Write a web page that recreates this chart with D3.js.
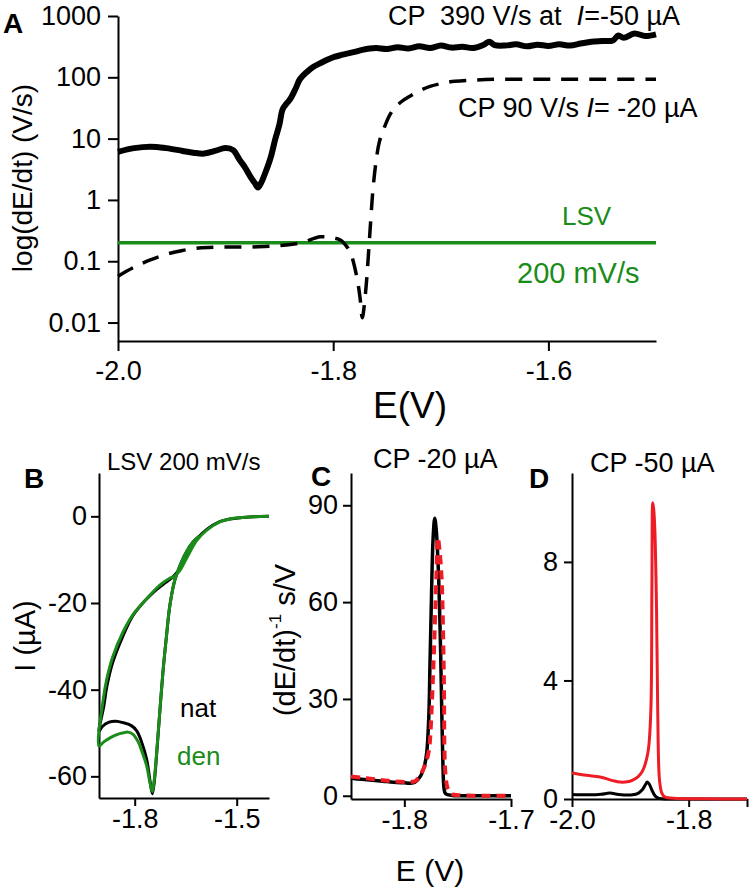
<!DOCTYPE html>
<html>
<head>
<meta charset="utf-8">
<script src="https://cdn.jsdelivr.net/npm/d3@7"></script>
<style>
  body { margin: 0; background: #fff; }
  text { font-family: Arial, "Liberation Sans", sans-serif; white-space: pre; }
  .axis path, .axis line { stroke: #000; stroke-width: 2px; }
  .axis text { font-family: Arial, "Liberation Sans", sans-serif; fill: #000; }
</style>
</head>
<body>
<script>
var width = 751,
    height = 891;

var green = "#1a8c1a",
    red = "#ee1c25";

// ---- panel A data: log(dE/dt) vs E ----
var aE390 = [-2.0,-1.985,-1.97,-1.955,-1.94,-1.93,-1.92,-1.91,-1.9,-1.893,-1.887,-1.882,-1.877,-1.873,-1.87,-1.867,-1.863,-1.858,-1.854,-1.85,-1.847,-1.843,-1.84,-1.835,-1.831,-1.825,-1.818,-1.812,-1.805,-1.799,-1.793,-1.786,-1.78,-1.773,-1.766,-1.76,-1.75,-1.74,-1.73,-1.72,-1.71,-1.70,-1.69,-1.68,-1.67,-1.66,-1.655,-1.65,-1.64,-1.63,-1.62,-1.61,-1.60,-1.59,-1.58,-1.57,-1.56,-1.55,-1.54,-1.535,-1.53,-1.52,-1.51,-1.50];
var aV390 = [6.1,7.0,7.4,7.0,6.3,5.9,5.7,6.3,7.0,6.5,4.5,3.4,2.4,1.9,1.6,1.9,2.8,5.0,9.6,17,30,38,44,65,93,120,150,170,195,215,230,245,260,280,295,300,290,310,295,320,300,330,305,315,300,340,380,335,330,345,320,340,325,345,330,355,380,390,400,480,440,520,470,500];

var aE90 = [-2.0,-1.985,-1.97,-1.955,-1.94,-1.925,-1.91,-1.89,-1.87,-1.85,-1.83,-1.812,-1.80,-1.793,-1.787,-1.784,-1.778,-1.775,-1.773,-1.770,-1.767,-1.765,-1.763,-1.760,-1.757,-1.752,-1.747,-1.742,-1.735,-1.728,-1.72,-1.71,-1.70,-1.687,-1.67,-1.645,-1.60,-1.55,-1.50];
var aV90 = [0.057,0.08,0.105,0.13,0.15,0.165,0.17,0.17,0.172,0.18,0.2,0.25,0.24,0.22,0.17,0.14,0.055,0.025,0.012,0.03,0.15,0.5,1.5,4.5,9,16,25,33,42,50,60,71,79,86,90,93,93,93,93];

var aLsvE = [-2.0,-1.5];
var aLsvV = [0.2,0.2];

var aXTicks = [-2.0,-1.8,-1.6], aXLabels = ["-2.0","-1.8","-1.6"], aXMinor = [-1.9,-1.7,-1.5];
var aYTicks = [0.01,0.1,1,10,100,1000], aYLabels = ["0.01","0.1","1","10","100","1000"];

// ---- panel B data: LSV 200 mV/s, I (uA) vs E ----
var bNatE = [-1.405,-1.45,-1.49,-1.52,-1.55,-1.588,-1.618,-1.647,-1.668,-1.683,-1.697,-1.715,-1.736,-1.755,-1.776,-1.806,-1.835,-1.865,-1.882,-1.891,-1.905,
             -1.895,-1.875,-1.855,-1.835,-1.81,-1.794,-1.78,-1.765,-1.755,-1.748,-1.742,-1.736,-1.727,-1.717,-1.707,-1.697,-1.683,-1.668,-1.65,-1.629,-1.61];
var bNatI = [0,-0.1,-0.3,-0.6,-1.2,-3.0,-5.3,-9.2,-12.2,-13.6,-14.6,-15.6,-16.9,-18.3,-20.0,-23.0,-27.7,-33.8,-39.3,-43.9,-49.6,
             -48.5,-47.5,-47.3,-47.6,-48.3,-49.5,-52,-56,-61,-64,-61,-55.5,-46,-36,-28,-20.8,-15,-11.6,-8.5,-6,-4.6];
var bDenE = [-1.405,-1.45,-1.49,-1.52,-1.55,-1.588,-1.618,-1.647,-1.668,-1.683,-1.697,-1.715,-1.736,-1.755,-1.776,-1.806,-1.835,-1.865,-1.882,-1.891,-1.905,
             -1.89,-1.87,-1.85,-1.835,-1.82,-1.805,-1.79,-1.78,-1.765,-1.755,-1.748,-1.742,-1.736,-1.727,-1.717,-1.707,-1.697,-1.683,-1.668,-1.65,-1.629,-1.61];
var bDenI = [0,-0.1,-0.3,-0.6,-1.3,-3.2,-5.6,-9.6,-12.6,-13.8,-14.3,-15.2,-16.6,-18.2,-20.0,-22.8,-26.8,-32.5,-37.5,-41.5,-53,
             -52,-51,-50.3,-50,-49.8,-50.3,-52,-54,-57.5,-61.5,-63.5,-60.5,-55,-46,-36,-28,-20.8,-15,-11.6,-8.5,-6,-4.6];
var bXTicks = [-1.8,-1.5], bXLabels = ["-1.8","-1.5"], bXMinor = [-1.65];
var bYTicks = [-60,-40,-20,0], bYLabels = ["-60","-40","-20","0"], bYMinor = [-50,-30,-10];

// ---- panel C data: CP -20 uA, (dE/dt)^-1 ----
var cBlkE = [-1.85,-1.84,-1.83,-1.82,-1.81,-1.80,-1.795,-1.79,-1.785,-1.781,-1.779,-1.777,-1.776,-1.775,-1.773,-1.7715,-1.770,-1.768,-1.766,-1.765,-1.764,-1.763,-1.762,-1.76,-1.755,-1.75,-1.73,-1.70];
var cBlkV = [5.4,5.1,4.8,4.5,4.2,4.0,3.9,4.2,6,9.5,13.4,25,40,55,80,86,82,69,45,28,12,3,1,0.4,0.1,0,0,0];
var cRedE = [-1.85,-1.84,-1.83,-1.82,-1.81,-1.80,-1.795,-1.79,-1.785,-1.78,-1.777,-1.776,-1.773,-1.770,-1.7685,-1.767,-1.765,-1.763,-1.7615,-1.759,-1.755,-1.75,-1.73,-1.70];
var cRedV = [6,5.6,5.2,4.8,4.5,4.3,4.3,4.5,6.5,10,14,17,38,67,80,76,67,38,7,2,0.5,0.2,0,0];
var cXTicks = [-1.8,-1.7], cXLabels = ["-1.8","-1.7"], cXMinor = [-1.75];
var cYTicks = [0,30,60,90], cYLabels = ["0","30","60","90"], cYMinor = [15,45,75];

// ---- panel D data: CP -50 uA ----
var dRedE = [-2.0,-1.975,-1.952,-1.93,-1.918,-1.905,-1.896,-1.887,-1.879,-1.870,-1.865,-1.863,-1.8615,-1.860,-1.858,-1.855,-1.853,-1.850,-1.846,-1.841,-1.82,-1.78,-1.74,-1.70];
var dRedV = [0.88,0.8,0.74,0.62,0.57,0.58,0.64,0.75,0.95,1.55,2.9,7.2,10.0,9.8,9.1,6.3,2.9,0.64,0.2,0.07,0.02,0.01,0,0];
var dBlkE = [-2.0,-1.97,-1.95,-1.935,-1.92,-1.896,-1.886,-1.88,-1.875,-1.871,-1.867,-1.863,-1.858,-1.853,-1.845,-1.80,-1.70];
var dBlkV = [0.15,0.14,0.16,0.2,0.15,0.14,0.2,0.3,0.45,0.57,0.48,0.3,0.12,0.04,0.01,0,0];
var dXTicks = [-2.0,-1.8,-1.7], dXLabels = ["-2.0","-1.8",""], dXMinor = [-1.9];
var dYTicks = [0,4,8], dYLabels = ["0","4","8"], dYMinor = [2,6,10];

var svg = d3.select("body").append("svg")
    .attr("width", width)
    .attr("height", height);

function zip(xs, ys){ return xs.map(function(v,i){ return {x: v, y: ys[i]}; }); }

// left/bottom axes with long labelled ticks and short minor ones
function drawAxes(x, y, o){
    var gx = svg.append("g").attr("class","axis").attr("transform","translate(0," + y.range()[0] + ")");
    gx.call(d3.axisBottom(x).tickValues(o.xMinor).tickSize(o.minor).tickSizeOuter(0).tickFormat(""));
    gx.call(d3.axisBottom(x).tickValues(o.xTicks).tickSize(o.major).tickSizeOuter(0)
        .tickPadding(o.xPad).tickFormat(function(d,i){ return o.xLabels[i]; }));
    gx.selectAll("text").style("font-size", o.fs + "px");

    var gy = svg.append("g").attr("class","axis").attr("transform","translate(" + x.range()[0] + ",0)");
    gy.call(d3.axisLeft(y).tickValues(o.yMinor).tickSize(o.minor).tickSizeOuter(0).tickFormat(""));
    gy.call(d3.axisLeft(y).tickValues(o.yTicks).tickSize(o.major).tickSizeOuter(0)
        .tickPadding(o.yPad).tickFormat(function(d,i){ return o.yLabels[i]; }));
    gy.selectAll("text").style("font-size", o.fs + "px");
}

function drawLine(x, y, data, color, w, dash, curve){
    var line = d3.line()
        .x(d => x(d.x))
        .y(d => y(d.y))
        .curve(curve || d3.curveCatmullRom.alpha(0.5));
    svg.append("path")
        .datum(data)
        .attr("d", line)
        .attr("fill", "none")
        .attr("stroke", color)
        .attr("stroke-width", w)
        .attr("stroke-linejoin", "round")
        .attr("stroke-dasharray", dash || null);
}

function label(x, y, txt, size, opts){
    opts = opts || {};
    var t = svg.append("text")
        .attr("x", x).attr("y", y)
        .attr("font-size", size)
        .attr("fill", opts.fill || "#000")
        .attr("font-weight", opts.bold ? "bold" : null)
        .attr("text-anchor", opts.anchor || "start")
        .text(txt);
    if (opts.rotate) t.attr("transform", "rotate(-90," + x + "," + y + ")");
    return t;
}

// ================= A =================
var xA = d3.scaleLinear().domain([-2.0,-1.5]).range([118,656]);
var yA = d3.scaleLog().domain([0.005,1000]).range([341,16]);

var aMinor = [];
for (var n = -3; n <= 2; n++) for (var k = 2; k <= 9; k++) {
    var v = k * Math.pow(10, n);
    if (v >= 0.005 && v <= 1000) aMinor.push(v);
}
drawAxes(xA, yA, {xTicks: aXTicks, xLabels: aXLabels, xMinor: aXMinor, yTicks: aYTicks, yLabels: aYLabels, yMinor: aMinor,
                  major: 10, minor: 5, xPad: 10, yPad: 7, fs: 27});

drawLine(xA, yA, zip(aLsvE, aLsvV), green, 3.5, null, d3.curveLinear);
drawLine(xA, yA, zip(aE90, aV90), "#000", 3.5, "17,11");
drawLine(xA, yA, zip(aE390, aV390), "#000", 6);

label(3, 33, "A", 28, {bold: true});
var t1 = label(388, 25, "CP  390 V/s at  ", 27);
t1.append("tspan").attr("font-style","italic").text("I");
t1.append("tspan").text("=-50 µA");
var t2 = label(458, 117, "CP 90 V/s ", 27);
t2.append("tspan").attr("font-style","italic").text("I");
t2.append("tspan").text("= -20 µA");
label(562, 225, "LSV", 26, {fill: green});
label(517, 283, "200 mV/s", 29, {fill: green});
label(410, 418, "E(V)", 37, {anchor: "middle"});
label(32, 178, "log(dE/dt) (V/s)", 28, {anchor: "middle", rotate: true});

// ================= B =================
var xB = d3.scaleLinear().domain([-1.905,-1.405]).range([99,269]);
var yB = d3.scaleLinear().domain([-65,10]).range([798,473]);
drawAxes(xB, yB, {xTicks: bXTicks, xLabels: bXLabels, xMinor: bXMinor, yTicks: bYTicks, yLabels: bYLabels, yMinor: bYMinor,
                  major: 8, minor: 5, xPad: 3, yPad: 4, fs: 27});
drawLine(xB, yB, zip(bNatE, bNatI), "#000", 3);
drawLine(xB, yB, zip(bDenE, bDenI), green, 3);

label(24, 488, "B", 28, {bold: true});
label(107, 470, "LSV 200 mV/s", 24);
label(180, 717, "nat", 26);
label(177, 765, "den", 26, {fill: green});
label(35, 636, "I (µA)", 29, {anchor: "middle", rotate: true});

// ================= C =================
var xC = d3.scaleLinear().domain([-1.85,-1.7]).range([351,511]);
var yC = d3.scaleLinear().domain([-1,100]).range([799,473]);
drawAxes(xC, yC, {xTicks: cXTicks, xLabels: cXLabels, xMinor: cXMinor, yTicks: cYTicks, yLabels: cYLabels, yMinor: cYMinor,
                  major: 8, minor: 5, xPad: 3, yPad: 5, fs: 27});
drawLine(xC, yC, zip(cBlkE, cBlkV), "#000", 3.5);
drawLine(xC, yC, zip(cRedE, cRedV), red, 4, "9,6");

label(311, 486, "C", 28, {bold: true});
label(373, 468, "CP -20 µA", 27);
label(430, 881, "E (V)", 30, {anchor: "middle"});
var cy = label(295, 640, "(dE/dt)", 29, {anchor: "middle", rotate: true});
cy.append("tspan").attr("font-size", 17).attr("dy", -14).text("-1");
cy.append("tspan").attr("dy", 14).text(" s/V");

// ================= D =================
var xD = d3.scaleLinear().domain([-2.0,-1.7]).range([572,747]);
var yD = d3.scaleLinear().domain([0,11]).range([799,473]);
drawAxes(xD, yD, {xTicks: dXTicks, xLabels: dXLabels, xMinor: dXMinor, yTicks: dYTicks, yLabels: dYLabels, yMinor: dYMinor,
                  major: 8, minor: 5, xPad: 3, yPad: 6, fs: 27});
drawLine(xD, yD, zip(dBlkE, dBlkV), "#000", 3);
drawLine(xD, yD, zip(dRedE, dRedV), red, 3);

label(529, 488, "D", 28, {bold: true});
label(590, 472, "CP -50 µA", 27);
</script>
</body>
</html>
